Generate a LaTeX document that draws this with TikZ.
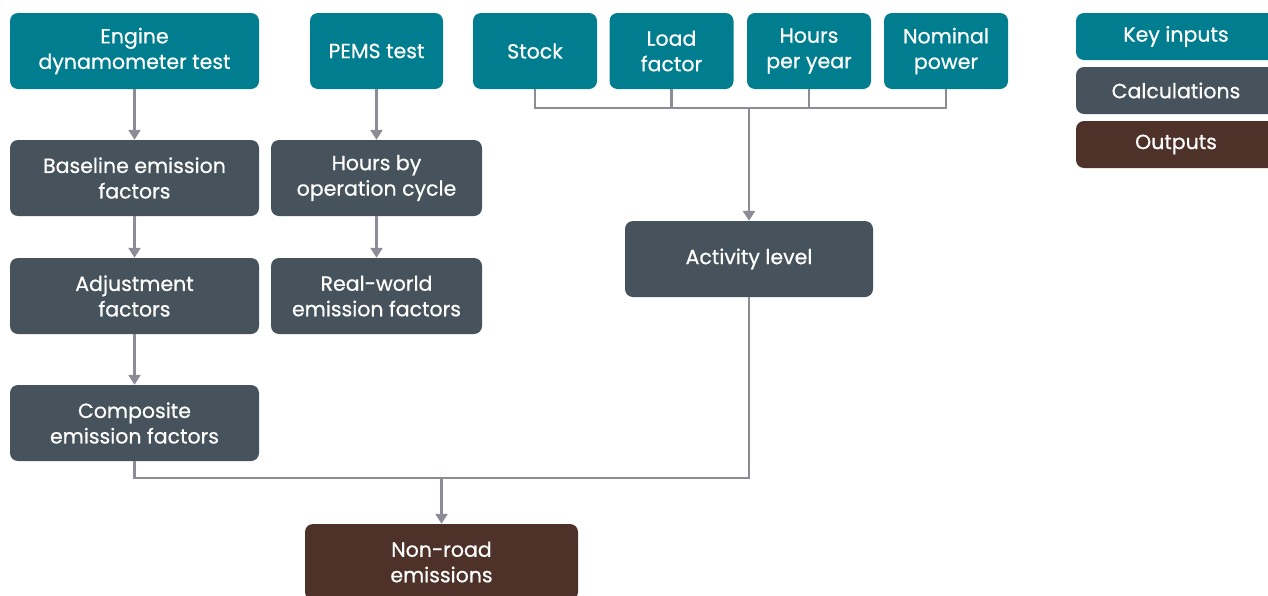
\documentclass[tikz,border=0pt]{standalone}
\usepackage{fontspec}
\setmainfont{Poppins}
\newfontfamily\boxfont{Poppins}[FakeBold=0.6]
\usetikzlibrary{arrows.meta}
\definecolor{keyc}{RGB}{0,126,143}
\definecolor{calc}{RGB}{70,82,92}
\definecolor{outc}{RGB}{78,50,41}
\definecolor{linec}{RGB}{140,140,150}
\tikzset{
  box/.style={rounded corners=8pt, text=white, align=center, inner sep=0pt,
    font=\boxfont\fontsize{20.5}{25.5}\selectfont},
  keyin/.style={box, fill=keyc},
  calcbox/.style={box, fill=calc},
  outbox/.style={box, fill=outc},
  conn/.style={draw=linec, line width=2.4pt},
  arr/.style={conn, -{Triangle[length=10pt,width=12pt]}},
}
\begin{document}
\begin{tikzpicture}[x=1pt,y=-1pt]
\useasboundingbox (0,0) rectangle (1268,595);
\clip (0,0) rectangle (1268,595);
% top row
\node[keyin, minimum width=249pt, minimum height=76pt] (engine) at (134.5,51) {Engine\\dynamometer test};
\node[keyin, minimum width=133pt, minimum height=76pt] (pems) at (376.5,51) {PEMS test};
\node[keyin, minimum width=124pt, minimum height=76pt] (stock) at (535,51) {Stock};
\node[keyin, minimum width=124pt, minimum height=76pt] (load) at (671.5,51) {Load\\factor};
\node[keyin, minimum width=124pt, minimum height=76pt] (hours) at (809,51) {Hours\\per year};
\node[keyin, minimum width=124pt, minimum height=76pt] (nom) at (946,51) {Nominal\\power};
% legend
\node[keyin, minimum width=200pt, minimum height=47pt] (lkey) at (1176,36.5) {Key inputs};
\node[calcbox, minimum width=200pt, minimum height=47pt] (lcalc) at (1176,90.5) {Calculations};
\node[outbox, minimum width=200pt, minimum height=47pt] (lout) at (1176,144.5) {Outputs};
% calculations
\node[calcbox, minimum width=249pt, minimum height=76pt] (base) at (134.5,178) {Baseline emission\\factors};
\node[calcbox, minimum width=211pt, minimum height=76pt] (hbo) at (376.5,178) {Hours by\\operation cycle};
\node[calcbox, minimum width=249pt, minimum height=76pt] (adj) at (134.5,296) {Adjustment\\factors};
\node[calcbox, minimum width=211pt, minimum height=76pt] (real) at (376.5,296) {Real-world\\emission factors};
\node[calcbox, minimum width=249pt, minimum height=76pt] (comp) at (134.5,423) {Composite\\emission factors};
\node[calcbox, minimum width=248pt, minimum height=76pt] (act) at (749,259) {Activity level};
\node[outbox, minimum width=273pt, minimum height=76pt] (nonroad) at (441.5,562) {Non-road\\emissions};
% connectors
\draw[arr] (engine) -- (base);
\draw[arr] (base) -- (adj);
\draw[arr] (adj) -- (comp);
\draw[arr] (pems) -- (hbo);
\draw[arr] (hbo) -- (real);
\coordinate (busL) at (535,108);
\coordinate (busR) at (946,108);
\coordinate (busM) at (749,108);
\draw[conn] (stock.south) |- (busL) -- (busR) -- (nom.south);
\draw[conn] (load.south) -- (load.south |- busL);
\draw[conn] (hours.south) -- (hours.south |- busL);
\draw[arr] (busM) -- (act.north);
\coordinate (botL) at (134.5,478);
\coordinate (botR) at (749,478);
\coordinate (botM) at (441.5,478);
\draw[conn] (comp.south) -- (botL) -- (botR) -- (act.south);
\draw[arr] (botM) -- (nonroad.north);
\end{tikzpicture}
\end{document}
